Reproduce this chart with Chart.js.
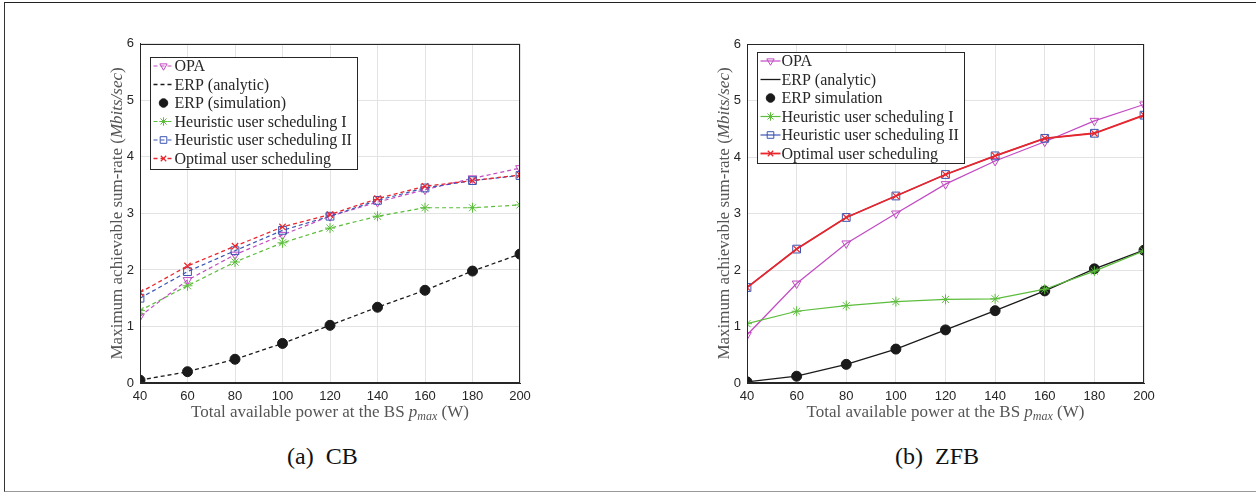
<!DOCTYPE html>
<html>
<head>
<meta charset="utf-8">
<script src="https://cdn.jsdelivr.net/npm/chart.js@4.4.0/dist/chart.umd.min.js"></script>
<style>
  body { margin: 0; background: #fff; width: 1256px; height: 493px; overflow: hidden; position: relative; }
  #frame { position: absolute; left: 4px; top: 2px; width: 1260px; height: 488px;
           border-top: 1px solid #222; border-left: 1px solid #333; border-bottom: 1px solid #999; }
  canvas { position: absolute; }
  .cap { position: absolute; top: 443px; font-family: "Liberation Serif", serif; font-size: 24px; color: #111; white-space: pre; }
</style>
</head>
<body>
<div id="frame"></div>
<canvas id="cb" width="440" height="400" style="left:100px;top:30px"></canvas>
<canvas id="zfb" width="460" height="400" style="left:707px;top:30px"></canvas>
<div class="cap" style="left:287px">(a)  CB</div>
<div class="cap" style="left:895px">(b)  ZFB</div>
<script>
// x values: total available power at the BS (W)
const power = [40, 60, 80, 100, 120, 140, 160, 180, 200];
const legendNames = ["OPA", "ERP (analytic)", "ERP (simulation)", "Heuristic user scheduling I", "Heuristic user scheduling II", "Optimal user scheduling"];
const legendNamesZfb = ["OPA", "ERP (analytic)", "ERP simulation", "Heuristic user scheduling I", "Heuristic user scheduling II", "Optimal user scheduling"];

// (a) CB
const cbOpa = [1.18, 1.82, 2.27, 2.62, 2.95, 3.20, 3.42, 3.62, 3.80];
const cbErp = [0.05, 0.20, 0.42, 0.70, 1.02, 1.34, 1.64, 1.98, 2.28];
const cbErpSim = [0.05, 0.20, 0.42, 0.70, 1.02, 1.34, 1.64, 1.98, 2.28];
const cbHeur1 = [1.28, 1.72, 2.14, 2.48, 2.74, 2.95, 3.10, 3.10, 3.15];
const cbHeur2 = [1.50, 1.97, 2.34, 2.70, 2.95, 3.23, 3.45, 3.58, 3.67];
const cbOptimal = [1.60, 2.07, 2.42, 2.76, 2.98, 3.26, 3.48, 3.58, 3.68];

// (b) ZFB
const zfbOpa = [0.85, 1.76, 2.47, 3.00, 3.52, 3.93, 4.27, 4.64, 4.93];
const zfbErp = [0.02, 0.12, 0.33, 0.60, 0.94, 1.28, 1.63, 2.02, 2.35];
const zfbErpSim = [0.02, 0.12, 0.33, 0.60, 0.94, 1.28, 1.63, 2.02, 2.35];
const zfbHeur1 = [1.05, 1.27, 1.37, 1.44, 1.48, 1.49, 1.66, 1.98, 2.34];
const zfbHeur2 = [1.69, 2.37, 2.93, 3.31, 3.69, 4.02, 4.33, 4.42, 4.74];
const zfbOptimal = [1.69, 2.37, 2.93, 3.31, 3.69, 4.02, 4.33, 4.42, 4.74];

const yTicks = [0, 1, 2, 3, 4, 5, 6];

const MAGENTA = '#c24ac2', GREEN = '#5cbd3c', BLUE = '#3b55b2', RED = '#e8262c', BLACK = '#1a1a1a';
const AXIS = '#262626';

const pts = arr => arr.map((v, i) => ({ x: power[i], y: v }));

function series(names, vals, dash, w) {
  const common = { borderDash: dash, fill: false, tension: 0 };
  return [
    { label: names[0], data: pts(vals[0]), borderColor: MAGENTA, backgroundColor: 'rgba(0,0,0,0)', borderWidth: 1.2,
      pointStyle: 'triangle', pointRotation: 180, pointRadius: 5, pointBorderWidth: 1, order: 4, ...common },
    { label: names[1], data: pts(vals[1]), borderColor: BLACK, backgroundColor: BLACK, borderWidth: 1.3,
      pointRadius: 0, order: 6, ...common },
    { label: names[2], data: pts(vals[2]), borderColor: BLACK, backgroundColor: BLACK, showLine: false,
      pointStyle: 'circle', pointRadius: 5, pointBorderWidth: 1, order: 5, ...common },
    { label: names[3], data: pts(vals[3]), borderColor: GREEN, backgroundColor: GREEN, borderWidth: 1.2,
      pointStyle: 'star', pointRadius: 5, pointBorderWidth: 1, order: 3, ...common },
    { label: names[4], data: pts(vals[4]), borderColor: BLUE, backgroundColor: 'rgba(0,0,0,0)', borderWidth: 1.2,
      pointStyle: 'rect', pointRadius: 5.5, pointBorderWidth: 1, order: 2, ...common },
    { label: names[5], data: pts(vals[5]), borderColor: RED, backgroundColor: RED, borderWidth: w,
      pointStyle: 'crossRot', pointRadius: 4.5, pointBorderWidth: 1.2, order: 1, ...common }
  ];
}

// draw a run of text parts centred at (x, y); each part: [text, font, yShift]
function drawRich(ctx, parts, x, y) {
  let total = 0;
  parts.forEach(p => { ctx.font = p[1]; total += ctx.measureText(p[0]).width; });
  let cx = x - total / 2;
  parts.forEach(p => {
    ctx.font = p[1];
    ctx.fillText(p[0], cx, y + (p[2] || 0));
    cx += ctx.measureText(p[0]).width;
  });
}

const SERIF = '"Liberation Serif", "Times New Roman", serif';

const decor = {
  id: 'decor',
  afterDraw(chart, args, opts) {
    const { ctx, chartArea: a } = chart;
    ctx.save();
    // axes box
    ctx.strokeStyle = AXIS;
    ctx.lineWidth = 1;
    ctx.strokeRect(Math.round(a.left) + 0.5, Math.round(a.top) + 0.5, Math.round(a.right - a.left) - 1, Math.round(a.bottom - a.top) - 1);

    // axis titles
    ctx.fillStyle = '#555';
    ctx.textBaseline = 'alphabetic';
    drawRich(ctx, [
      ['Total available power at the BS ', '17px ' + SERIF],
      ['p', 'italic 17px ' + SERIF],
      ['max', 'italic 12px ' + SERIF, 3],
      [' (W)', '17px ' + SERIF]
    ], (a.left + a.right) / 2, a.bottom + 34);
    ctx.save();
    ctx.translate(a.left - 18, (a.top + a.bottom) / 2);
    ctx.rotate(-Math.PI / 2);
    drawRich(ctx, [
      ['Maximum achievable sum-rate (', '17px ' + SERIF],
      ['Mbits/sec', 'italic 17px ' + SERIF],
      [')', '17px ' + SERIF]
    ], 0, 0);
    ctx.restore();

    // legend box
    const lx = Math.round(a.left + opts.dx) + 0.5, ly = Math.round(a.top + opts.dy) + 0.5;
    const lw = 207, lh = opts.h;
    ctx.fillStyle = '#fff';
    ctx.fillRect(lx, ly, lw, lh);
    ctx.strokeStyle = AXIS;
    ctx.strokeRect(lx, ly, lw, lh);
    chart.data.datasets.forEach((ds, i) => {
      const cy = ly + 8.5 + i * 18.5;
      if (ds.showLine !== false) {
        ctx.beginPath();
        ctx.setLineDash(ds.borderDash || []);
        ctx.strokeStyle = ds.borderColor;
        ctx.lineWidth = ds.borderWidth;
        ctx.moveTo(lx + 3, cy);
        ctx.lineTo(lx + 23, cy);
        ctx.stroke();
        ctx.setLineDash([]);
      }
      if (ds.pointRadius > 0) {
        ctx.strokeStyle = ds.borderColor;
        ctx.fillStyle = ds.backgroundColor;
        ctx.lineWidth = ds.pointBorderWidth;
        Chart.helpers.drawPoint(ctx, {
          pointStyle: ds.pointStyle, rotation: ds.pointRotation || 0,
          radius: ds.pointRadius * 0.85, borderWidth: ds.pointBorderWidth
        }, lx + 13, cy);
      }
      ctx.fillStyle = AXIS;
      ctx.font = '16px ' + SERIF;
      ctx.textBaseline = 'middle';
      ctx.textAlign = 'left';
      ctx.fillText(ds.label, lx + 24, cy + 1);
    });
    ctx.restore();
  }
};

function makeChart(id, datasets, pad, legend) {
  return new Chart(document.getElementById(id), {
    type: 'line',
    data: { datasets },
    plugins: [decor],
    options: {
      responsive: false,
      animation: false,
      layout: { padding: pad },
      plugins: { legend: { display: false }, tooltip: { enabled: false }, decor: legend },
      scales: {
        x: {
          type: 'linear', min: power[0], max: power[power.length - 1],
          afterBuildTicks: s => { s.ticks = power.map(v => ({ value: v })); },
          ticks: { color: AXIS, font: { family: '"Liberation Sans", Arial, sans-serif', size: 13 }, padding: 6, maxRotation: 0 },
          grid: { color: '#e3e3e3', drawTicks: false },
          border: { color: AXIS },
          afterFit: s => { s.height = 47; }
        },
        y: {
          type: 'linear', min: yTicks[0], max: yTicks[yTicks.length - 1],
          afterBuildTicks: s => { s.ticks = yTicks.map(v => ({ value: v })); },
          ticks: { color: AXIS, font: { family: '"Liberation Sans", Arial, sans-serif', size: 13 }, padding: 6 },
          grid: { color: '#e3e3e3', drawTicks: false },
          border: { color: AXIS },
          afterFit: s => { s.width = 40; }
        }
      }
    }
  });
}

makeChart('cb',
  series(legendNames, [cbOpa, cbErp, cbErpSim, cbHeur1, cbHeur2, cbOptimal], [4, 3], 1.3),
  { left: 0, right: 20, top: 13, bottom: 0 },
  { dx: 10, dy: 13, h: 112 });

makeChart('zfb',
  series(legendNamesZfb, [zfbOpa, zfbErp, zfbErpSim, zfbHeur1, zfbHeur2, zfbOptimal], [], 1.8),
  { left: 0, right: 23, top: 14, bottom: 0 },
  { dx: 10, dy: 8, h: 111 });
</script>
</body>
</html>
